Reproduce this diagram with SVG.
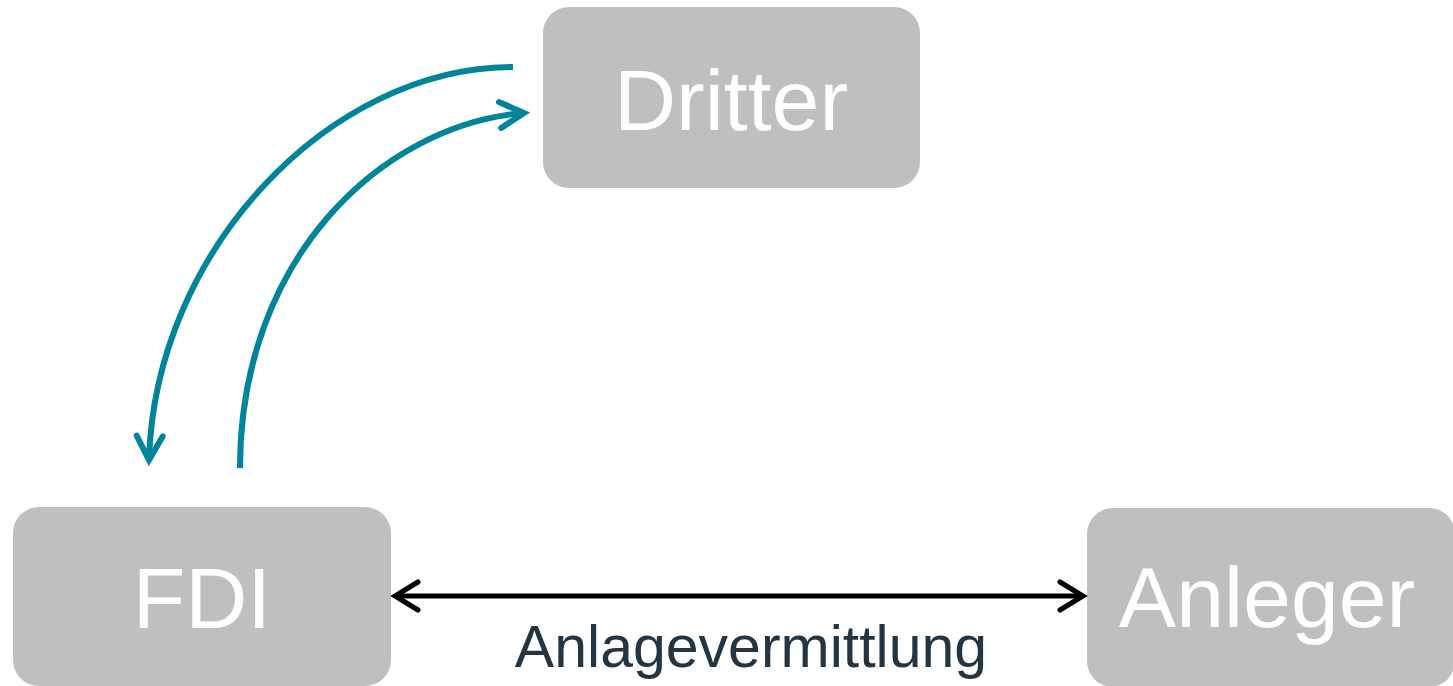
<svg xmlns="http://www.w3.org/2000/svg" width="1453" height="686" viewBox="0 0 1453 686">
  <style>
    .box { fill: #BFBFBF; }
    .node-text { font-family: "Liberation Sans", Arial, sans-serif; font-size: 86px; fill: #FFFFFF; text-anchor: middle; }
    .label { font-family: "Liberation Sans", Arial, sans-serif; font-size: 59px; fill: #233542; text-anchor: middle; }
    .teal { fill: none; stroke: #00849A; stroke-width: 6; }
    .black { fill: none; stroke: #000000; stroke-width: 5; }
  </style>
  <defs>
    <marker id="chevron-teal" markerUnits="userSpaceOnUse" markerWidth="40" markerHeight="40" viewBox="-30 -20 40 40" refX="0" refY="0" orient="auto-start-reverse" overflow="visible">
      <path d="M-24,-13 L0,0 L-24,13" fill="none" stroke="#00849A" stroke-width="6" stroke-linecap="round"/>
    </marker>
    <marker id="chevron-black" markerUnits="userSpaceOnUse" markerWidth="40" markerHeight="40" viewBox="-30 -20 40 40" refX="0" refY="0" orient="auto-start-reverse" overflow="visible">
      <path d="M-23,-14 L0,0 L-23,14" fill="none" stroke="#000000" stroke-width="5" stroke-linecap="round"/>
    </marker>
  </defs>

  <g id="node-dritter">
    <rect class="box" x="543" y="7" width="377" height="181" rx="26"/>
    <text class="node-text" x="731" y="130">Dritter</text>
  </g>

  <g id="node-fdi">
    <rect class="box" x="13" y="507" width="378" height="179" rx="26"/>
    <text class="node-text" x="202" y="628">FDI</text>
  </g>

  <g id="node-anleger">
    <rect class="box" x="1087" y="508" width="368" height="179" rx="26"/>
    <text class="node-text" x="1267" y="627">Anleger</text>
  </g>

  <g id="connectors">
    <!-- Dritter to FDI -->
    <path class="teal" d="M513,67 C330,67 155,250 149,460" marker-end="url(#chevron-teal)"/>
    <!-- FDI to Dritter -->
    <path class="teal" d="M240,468 C240,260 380,125 524,113" marker-end="url(#chevron-teal)"/>
    <!-- FDI <-> Anleger -->
    <path class="black" d="M395,596 L1083,596" marker-start="url(#chevron-black)" marker-end="url(#chevron-black)"/>
    <text class="label" x="751" y="667">Anlagevermittlung</text>
  </g>
</svg>
